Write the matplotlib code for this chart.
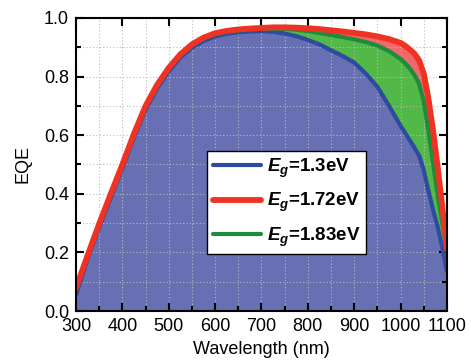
import matplotlib
matplotlib.use("Agg")
import matplotlib.pyplot as plt
from matplotlib.ticker import MultipleLocator, FormatStrFormatter

plt.rcParams['font.family'] = ['Liberation Sans', 'DejaVu Sans']
plt.rcParams['mathtext.fontset'] = 'custom'
plt.rcParams['mathtext.rm'] = 'Liberation Sans'
plt.rcParams['mathtext.it'] = 'Liberation Sans:italic'
plt.rcParams['mathtext.bf'] = 'Liberation Sans:bold'
plt.rcParams['mathtext.bfit'] = 'Liberation Sans:italic:bold'

# Wavelength grid (nm) and EQE for three band gaps
wavelength = [300, 325, 350, 375, 400, 425, 450, 475, 500, 525, 550, 575, 600,
              625, 650, 675, 700, 725, 750, 775, 800, 825, 850, 875, 900, 925,
              950, 975, 1000, 1010, 1020, 1030, 1040, 1050, 1060, 1070, 1080,
              1090, 1100]
eqe_172 = [0.078, 0.190, 0.298, 0.400, 0.500, 0.605, 0.700, 0.772, 0.830, 0.876,
           0.910, 0.933, 0.948, 0.956, 0.961, 0.964, 0.966, 0.968, 0.968, 0.967,
           0.965, 0.962, 0.958, 0.954, 0.949, 0.944, 0.937, 0.928, 0.915, 0.905,
           0.892, 0.878, 0.855, 0.810, 0.725, 0.615, 0.490, 0.355, 0.210]
eqe_183 = [0.075, 0.187, 0.295, 0.397, 0.497, 0.602, 0.697, 0.769, 0.827, 0.873,
           0.907, 0.930, 0.945, 0.953, 0.958, 0.961, 0.963, 0.964, 0.963, 0.960,
           0.955, 0.949, 0.942, 0.935, 0.927, 0.918, 0.906, 0.887, 0.860, 0.845,
           0.828, 0.805, 0.775, 0.715, 0.615, 0.505, 0.395, 0.300, 0.210]
eqe_13 = [0.055, 0.178, 0.285, 0.387, 0.487, 0.592, 0.687, 0.760, 0.818, 0.865,
          0.899, 0.922, 0.937, 0.946, 0.951, 0.954, 0.955, 0.953, 0.947, 0.938,
          0.925, 0.910, 0.890, 0.870, 0.848, 0.810, 0.765, 0.700, 0.632, 0.607,
          0.582, 0.557, 0.530, 0.480, 0.410, 0.345, 0.287, 0.215, 0.135]

labels = [r'$\mathbfit{E}_{\mathbfit{g}}$=1.3eV',
          r'$\mathbfit{E}_{\mathbfit{g}}$=1.72eV',
          r'$\mathbfit{E}_{\mathbfit{g}}$=1.83eV']

blue_line, red_line, green_line = '#2E4C9E', '#EE3224', '#1E8C3C'
blue_fill, red_fill, green_fill = '#6670B2', '#EE6A6A', '#52B848'

fig = plt.figure(figsize=(4.71, 3.64), dpi=100)
ax = fig.add_axes([0.1614, 0.1456, 0.7876, 0.805])

# Stacked fills: widest response first, narrower ones on top
ax.fill_between(wavelength, 0, eqe_172, color=red_fill, lw=0, zorder=1)
ax.fill_between(wavelength, 0, eqe_183, color=green_fill, lw=0, zorder=1.1)
ax.fill_between(wavelength, 0, eqe_13, color=blue_fill, lw=0, zorder=1.2)

style = dict(solid_capstyle='round', solid_joinstyle='round')
l1, = ax.plot(wavelength, eqe_13, color=blue_line, lw=3.0, zorder=3, **style)
l3, = ax.plot(wavelength, eqe_183, color=green_line, lw=3.0, zorder=3.1, **style)
l2, = ax.plot(wavelength, eqe_172, color=red_line, lw=4.2, zorder=3.2, **style)

ax.set_xlim(300, 1100)
ax.set_ylim(0.0, 1.0)
ax.xaxis.set_major_locator(MultipleLocator(100))
ax.xaxis.set_minor_locator(MultipleLocator(50))
ax.yaxis.set_major_locator(MultipleLocator(0.2))
ax.yaxis.set_minor_locator(MultipleLocator(0.1))
ax.yaxis.set_major_formatter(FormatStrFormatter('%.1f'))

ax.set_axisbelow(False)
ax.grid(True, which='both', color='#BBBBBB', ls=(0, (1, 2)), lw=0.8, zorder=2)

for s in ax.spines.values():
    s.set_linewidth(1.5)
    s.set_zorder(5)

ax.tick_params(which='major', direction='in', length=6, width=1.5,
               top=True, right=True, labelsize=13, pad=5)
ax.tick_params(which='minor', direction='in', length=3.5, width=1.5,
               top=False, right=True)

ax.set_xlabel('Wavelength (nm)', fontsize=13, labelpad=4)
ax.set_ylabel('EQE', fontsize=13, labelpad=9)

leg = ax.legend([l1, l2, l3], labels, loc='upper left',
                bbox_to_anchor=(0.353, 0.546), borderaxespad=0,
                fancybox=False, edgecolor='black', framealpha=1,
                prop={'weight': 'bold', 'size': 13.5}, handlelength=2.6,
                handletextpad=0.3, labelspacing=0.6, borderpad=0.3)
leg.get_frame().set_linewidth(1.0)
leg.set_zorder(10)

fig.savefig('out.png', dpi=100)
